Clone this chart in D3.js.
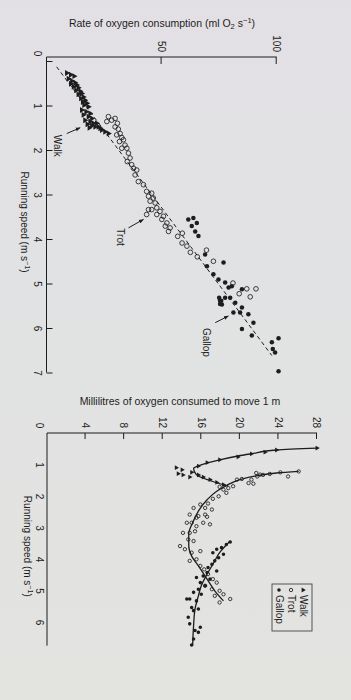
<!DOCTYPE html>
<html>
<head>
<meta charset="utf-8">
<script src="https://cdn.jsdelivr.net/npm/d3@7"></script>
<style>
  html, body { margin: 0; padding: 0; background: #e2e2e0; }
  svg { display: block; font-family: "Liberation Sans", Arial, sans-serif; }
</style>
</head>
<body>
<div id="chart"></div>
<script>
// ---- data : [running speed (m/s), value] ----
// left panel: rate of O2 consumption (ml O2 / s)
const walkRate = [[0.27,8.8],[0.31,10.5],[0.34,12.0],[0.40,9.5],[0.45,11.0],[0.49,12.4],[0.51,10.5],[0.54,13.1],
  [0.58,11.7],[0.60,13.8],[0.66,12.8],[0.68,14.6],[0.73,15.3],[0.75,13.8],[0.81,16.0],[0.84,14.9],[0.88,16.7],
  [0.92,15.7],[0.95,17.5],[0.99,16.3],[1.03,18.2],[1.10,15.3],[1.14,17.2],[1.18,18.9],[1.21,16.0],[1.25,18.2],
  [1.29,19.7],[1.33,16.7],[1.36,18.9],[1.40,20.3],[1.42,17.7],[1.45,19.7],[1.48,21.1],[1.50,18.6],[1.40,21.8],
  [1.48,22.5],[1.51,23.3],[1.55,24.0],[1.59,25.4],[1.63,26.9]];
const trotRate = [[1.25,26.9],[1.33,28.3],[1.36,26.2],[1.29,29.8],[1.40,30.8],[1.48,29.8],[1.53,31.2],[1.63,32.0],
  [1.66,30.5],[1.72,32.7],[1.77,33.4],[1.81,31.7],[1.89,34.1],[1.96,32.7],[1.96,34.9],[2.07,35.6],[2.18,36.3],
  [2.26,35.1],[2.33,37.0],[2.41,37.8],[2.45,39.2],[2.56,38.5],[2.71,39.9],[2.78,42.1],[2.93,43.5],[2.97,45.7],
  [3.04,44.3],[3.08,46.4],[3.15,45.0],[3.19,47.2],[3.30,47.9],[3.34,45.7],[3.38,49.3],[3.45,47.9],[3.49,50.8],
  [3.56,50.1],[3.64,52.3],[3.71,51.6],[3.75,53.7],[3.83,53.0],[3.45,43.5],[3.34,44.3],[3.94,57.0],[3.87,59.0],
  [4.09,58.9],[4.16,61.0],[4.30,62.5],[4.40,65.5],[4.25,69.5],[4.50,72.5],[4.99,81.0],[5.12,87.0],[5.12,91.0],
  [5.30,88.5],[5.23,83.7]];
const gallopRate = [[3.56,61.6],[3.53,63.8],[3.64,65.3],[3.71,63.1],[3.83,64.6],[3.93,66.0],[4.35,68.9],[4.61,69.7],
  [4.53,76.9],[4.79,72.5],[4.91,74.7],[4.98,77.6],[5.09,79.1],[5.39,75.4],[5.32,77.6],[5.47,76.2],[5.32,75.0],
  [5.39,75.9],[5.46,75.4],[5.06,80.5],[5.13,84.9],[5.32,79.8],[5.43,82.0],[5.65,81.2],[5.65,84.1],[5.54,84.9],
  [5.69,87.7],[5.88,89.9],[6.02,84.9],[6.17,89.2],[6.32,97.9],[6.23,100.8],[6.47,98.3],[6.55,99.3],[6.97,100.8]];
const rateTrend = [[0.13,4.4],[6.62,97.9]];

// right panel: ml O2 consumed to move 1 m
const walkCost = [[0.48,28.0],[0.54,23.8],[0.61,22.6],[0.66,21.2],[0.76,19.8],[0.85,17.9],[0.94,16.6],[1.05,15.7],
  [1.17,14.0],[1.33,14.1],[1.40,14.8],[1.25,15.0],[1.33,15.7],[1.40,16.2],[1.48,16.9],[1.57,17.6],[1.64,18.3],
  [1.10,13.4],[1.29,13.6]];
const trotCost = [[1.22,26.1],[1.38,25.0],[1.25,24.2],[1.30,23.1],[1.32,22.1],[1.38,21.8],[1.48,21.2],[1.59,20.9],
  [1.61,21.4],[1.46,20.2],[1.48,19.7],[1.69,19.3],[1.75,18.8],[1.80,18.3],[1.90,18.6],[1.71,17.9],[2.01,17.8],
  [2.09,17.2],[2.24,16.7],[2.27,15.9],[2.43,17.1],[2.38,16.4],[2.38,15.2],[2.59,14.8],[2.64,15.7],[2.66,16.6],
  [2.85,15.0],[2.96,15.5],[2.85,16.2],[2.59,16.4],[2.69,15.5],[2.85,14.5],[2.90,16.9],[3.17,14.1],[3.17,14.8],
  [3.12,15.35],[3.38,14.65],[3.43,15.2],[3.59,13.8],[3.69,14.3],[3.80,15.0],[3.75,15.9],[4.01,15.5],[4.06,14.8],
  [4.22,15.9],[4.33,16.3],[4.48,16.7],[4.64,17.2],[4.75,17.6],[4.96,17.1],[5.01,17.9],[5.12,18.3],[5.17,17.4],
  [5.27,19.0],[5.38,17.9],[4.85,16.4],[1.27,21.7],[1.33,22.4]];
const gallopCost = [[3.46,19.0],[3.54,18.6],[3.64,18.1],[3.69,17.6],[3.80,17.2],[3.85,18.3],[3.96,17.8],[4.06,17.4],
  [4.17,17.1],[4.38,17.6],[4.27,16.7],[4.43,16.6],[4.54,16.2],[4.59,15.5],[4.64,16.9],[4.75,15.9],[4.85,16.4],
  [4.96,15.7],[5.06,15.2],[5.12,16.0],[5.27,14.8],[5.27,14.5],[5.33,15.5],[5.54,15.0],[5.59,15.7],[5.64,15.2],
  [5.85,14.65],[6.17,15.9],[6.27,15.35],[6.06,14.8],[6.33,15.7],[6.54,15.2],[6.73,15.0]];
const walkCurve = [[0.48,28.0],[0.54,23.8],[0.66,21.2],[0.73,19.8],[0.85,17.9],[1.04,15.7],[1.12,15.2],[1.33,15.5],[1.54,17.2],[1.69,18.8]];
const trotCurve = [[1.22,26.1],[1.27,23.8],[1.36,21.7],[1.48,20.0],[1.67,18.6],[1.85,17.6],[2.12,16.6],[2.48,15.7],
  [2.85,15.1],[3.2,14.7],[3.59,14.7],[3.91,15.0],[4.22,15.7],[4.64,16.6],[5.01,17.4],[5.33,18.3]];
const gallopCurve = [[3.43,19.0],[3.80,17.9],[4.17,17.2],[4.48,16.6],[4.85,16.0],[5.17,15.7],[5.59,15.35],[6.12,15.2],[6.75,15.1]];

const speedTicksLeft = [0, 1, 2, 3, 4, 5, 6, 7];
const rateTicks = [50, 100];
const costTicks = [4, 8, 12, 16, 20, 24, 28];
const speedTicksRight = [0, 1, 2, 3, 4, 5, 6];
const gaits = ["Walk", "Trot", "Gallop"];
// gait labels on the left panel: label anchor, arrow start, arrow tip
const gaitNotes = [
  { name: "Walk",   at: [1.66, 4.7],  from: [1.63, 8.8],  to: [1.50, 14.6] },
  { name: "Trot",   at: [3.76, 32.0], from: [3.75, 35.6], to: [3.56, 42.1] },
  { name: "Gallop", at: [6.00, 69.7], from: [5.88, 73.3], to: [5.73, 79.0] }
];

const ink = "#1d1d1d";
const svg = d3.select("#chart").append("svg").attr("width", 351).attr("height", 700);

const defs = svg.append("defs");
const grad = defs.append("linearGradient").attr("id", "paper").attr("x1", 0).attr("y1", 0).attr("x2", 0).attr("y2", 1);
grad.append("stop").attr("offset", "0%").attr("stop-color", "#e3e0e5");
grad.append("stop").attr("offset", "40%").attr("stop-color", "#e1e2e3");
grad.append("stop").attr("offset", "100%").attr("stop-color", "#e3e3e0");
defs.append("marker").attr("id", "arrow").attr("viewBox", "0 0 10 10")
  .attr("refX", 9).attr("refY", 5).attr("markerWidth", 5).attr("markerHeight", 5).attr("orient", "auto")
  .append("path").attr("d", "M0,1L10,5L0,9Z").attr("fill", ink);

svg.append("rect").attr("width", 351).attr("height", 700).attr("fill", "url(#paper)");

// text with sub/superscript parts: [string, "sub"|"sup"|"back-sub"|"back-sup"]
function richText(sel, parts, fs) {
  parts.forEach(([s, kind]) => {
    const t = sel.append("tspan").text(s);
    if (kind === "sub") t.attr("font-size", fs * 0.72).attr("dy", 2);
    if (kind === "sup") t.attr("font-size", fs * 0.72).attr("dy", -4);
    if (kind === "back-sub") t.attr("dy", -2);
    if (kind === "back-sup") t.attr("dy", 4);
  });
}

function marks(g, rows, gait, sx, sy, sz) {
  const sel = g.append("g").selectAll("path").data(rows).join("path")
    .attr("transform", d => `translate(${sx(d[0])},${sy(d[1])})`);
  if (gait === "Walk") sel.attr("d", d3.symbol(d3.symbolTriangle, sz.tri)).attr("fill", ink);
  else if (gait === "Trot") sel.attr("d", d3.symbol(d3.symbolCircle, sz.ring)).attr("fill", "none").attr("stroke", ink).attr("stroke-width", 0.85);
  else sel.attr("d", d3.symbol(d3.symbolCircle, sz.dot)).attr("fill", ink);
}

function styleAxis(a, fs) {
  a.select(".domain").remove();
  a.selectAll("line").attr("stroke", ink);
  a.selectAll("text").attr("fill", ink).attr("font-size", fs).attr("font-family", null);
}

// ===== left panel (figure is photographed turned 90deg clockwise) =====
const L = { left: 46.5, right: 276.7, top: 61, bottom: 372.5 };
const sx1 = d3.scaleLinear().domain([0, 7]).range([0, L.bottom - L.top]);
const sy1 = d3.scaleLinear().domain([0, 100]).range([L.right - L.left, 0]);
const g1 = svg.append("g").attr("transform", `translate(${L.right},${L.top}) rotate(90)`);

g1.append("path").attr("d", `M-4,0V${sy1(0)}H${sx1(7)}`).attr("fill", "none").attr("stroke", ink).attr("stroke-width", 1);
const ax1 = g1.append("g").attr("transform", `translate(0,${sy1(0)})`)
  .call(d3.axisBottom(sx1).tickValues(speedTicksLeft).tickFormat(d3.format("d")).tickSize(-6).tickPadding(5));
styleAxis(ax1, 10);
ax1.selectAll("text").attr("dx", d => d === 0 ? -8 : 0);
const ay1 = g1.append("g").attr("transform", "translate(-4,0)")
  .call(d3.axisLeft(sy1).tickValues(rateTicks).tickFormat(d3.format("d")).tickSize(-7).tickPadding(5));
styleAxis(ay1, 10);

g1.append("path").datum(rateTrend)
  .attr("d", d3.line().x(d => sx1(d[0])).y(d => sy1(d[1])))
  .attr("fill", "none").attr("stroke", ink).attr("stroke-width", 1).attr("stroke-dasharray", "4,3");

const sz1 = { tri: 15, ring: 17, dot: 16 };
marks(g1, walkRate, "Walk", sx1, sy1, sz1);
marks(g1, trotRate, "Trot", sx1, sy1, sz1);
marks(g1, gallopRate, "Gallop", sx1, sy1, sz1);

gaitNotes.forEach(n => {
  g1.append("line")
    .attr("x1", sx1(n.from[0])).attr("y1", sy1(n.from[1]))
    .attr("x2", sx1(n.to[0])).attr("y2", sy1(n.to[1]))
    .attr("stroke", ink).attr("stroke-width", 1).attr("marker-end", "url(#arrow)");
  g1.append("text").attr("x", sx1(n.at[0])).attr("y", sy1(n.at[1]))
    .attr("dominant-baseline", "central").attr("font-size", 10).attr("fill", ink).text(n.name);
});

richText(g1.append("text").attr("x", sx1(3.62)).attr("y", sy1(0) + 26)
  .attr("text-anchor", "middle").attr("font-size", 10).attr("fill", ink),
  [["Running speed (m s"], ["−1", "sup"], [")", "back-sup"]], 10);

richText(svg.append("text").attr("x", 162).attr("y", 27).attr("text-anchor", "middle")
  .attr("font-size", 10.5).attr("fill", ink),
  [["Rate of oxygen consumption (ml O"], ["2", "sub"], [" s", "back-sub"], ["−1", "sup"], [")", "back-sup"]], 10.5);

// ===== right panel =====
const R = { left: 47, right: 317, top: 433, bottom: 645.6 };
const sx2 = d3.scaleLinear().domain([0, 6.75]).range([0, R.bottom - R.top]);
const sy2 = d3.scaleLinear().domain([0, 28]).range([R.right - R.left, 0]);
const g2 = svg.append("g").attr("transform", `translate(${R.right},${R.top}) rotate(90)`);

g2.append("path").attr("d", `M0,0V${sy2(0)}H${sx2(6.75)}`).attr("fill", "none").attr("stroke", ink).attr("stroke-width", 1);
const ax2 = g2.append("g").attr("transform", `translate(0,${sy2(0)})`)
  .call(d3.axisBottom(sx2).tickValues(speedTicksRight).tickFormat(d3.format("d")).tickSize(0).tickPadding(4));
styleAxis(ax2, 10);
ax2.selectAll("text").attr("dx", d => d === 0 ? -8 : 0);
const ay2 = g2.append("g")
  .call(d3.axisLeft(sy2).tickValues(costTicks).tickFormat(d3.format("d")).tickSize(-6).tickPadding(5));
styleAxis(ay2, 10);

const curve = d3.line().x(d => sx2(d[0])).y(d => sy2(d[1])).curve(d3.curveMonotoneX);
[walkCurve, trotCurve, gallopCurve].forEach(c => {
  g2.append("path").datum(c).attr("d", curve)
    .attr("fill", "none").attr("stroke", ink).attr("stroke-width", 1.3);
});

const sz2 = { tri: 10, ring: 9, dot: 10 };
marks(g2, walkCost, "Walk", sx2, sy2, sz2);
marks(g2, trotCost, "Trot", sx2, sy2, sz2);
marks(g2, gallopCost, "Gallop", sx2, sy2, sz2);

richText(g2.append("text").attr("x", sx2(3.6)).attr("y", sy2(0) + 23)
  .attr("text-anchor", "middle").attr("font-size", 10).attr("fill", ink),
  [["Running speed (m s"], ["−1", "sup"], [")", "back-sup"]], 10);

svg.append("text").attr("x", 180).attr("y", 405).attr("text-anchor", "middle")
  .attr("font-size", 10.5).attr("fill", ink).text("Millilitres of oxygen consumed to move 1 m");

// legend
const lg = g2.append("g").attr("transform", "translate(151,5)");
lg.append("rect").attr("width", 47).attr("height", 40).attr("fill", "none").attr("stroke", "#444").attr("stroke-width", 0.9);
gaits.forEach((name, i) => {
  const row = lg.append("g").attr("transform", `translate(0,${9 + i * 12})`);
  marks(row, [[0, 0]], name, () => 6, () => 0, { tri: 10, ring: 9, dot: 10 });
  row.append("text").attr("x", 11).attr("dominant-baseline", "central")
    .attr("font-size", 10).attr("fill", ink).text(name);
});
</script>
</body>
</html>
